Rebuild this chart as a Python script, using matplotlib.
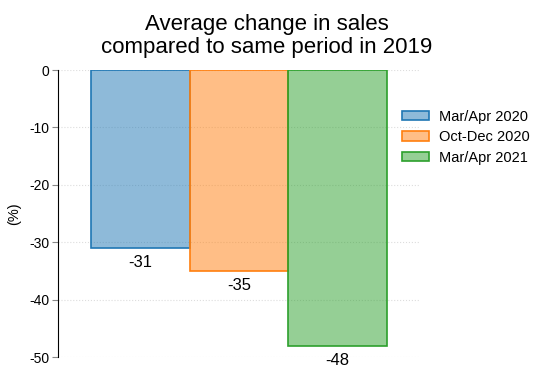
import numpy as np
import matplotlib.pyplot as plt
import matplotlib.colors as mcolors
from matplotlib.patches import Patch

plt.rcParams['font.family'] = ['Liberation Sans', 'DejaVu Sans']
plt.rcParams['axes.unicode_minus'] = False

periods = ['Mar/Apr 2020', 'Oct-Dec 2020', 'Mar/Apr 2021']
values = [-31, -35, -48]
colors = ['#1f77b4', '#ff7f0e', '#2ca02c']

fig = plt.figure(figsize=(5.34, 3.67), dpi=100)
ax = fig.add_axes([0.1086, 0.0272, 0.678, 0.782])

x = np.arange(len(values))
for i in range(len(values)):
    ax.bar(x[i], values[i], width=1.0, align='center',
           color=(*mcolors.to_rgb(colors[i]), 0.5),
           edgecolor=colors[i], linewidth=1.2)
    ax.text(x[i], values[i] - 1.3, str(values[i]), ha='center', va='top', fontsize=12)

ax.set_xlim(-0.834, 2.834)
ax.set_ylim(-50, 0)
ax.set_yticks([0, -10, -20, -30, -40, -50])
ax.set_xticks([])
ax.yaxis.grid(True, linestyle=':', color='#dddddd', linewidth=0.8)
ax.set_axisbelow(True)
for s in ['top', 'right', 'bottom']:
    ax.spines[s].set_visible(False)
ax.spines['left'].set_color('black')
ax.tick_params(axis='y', length=4, color='#888888', labelsize=10, pad=2)
ax.set_ylabel('(%)', fontsize=10.5, labelpad=6)

fig.suptitle('Average change in sales\ncompared to same period in 2019',
             fontsize=16, y=0.962, x=0.5, linespacing=1.15)

handles = [Patch(facecolor=(*mcolors.to_rgb(c), 0.5), edgecolor=c, linewidth=1.2)
           for c in colors]
ax.legend(handles, periods, loc='upper left', bbox_to_anchor=(0.915, 0.908),
          frameon=False, fontsize=10.5, handlelength=1.8, handleheight=0.6,
          labelspacing=0.45, handletextpad=0.7)

fig.savefig('out.png', dpi=100)
